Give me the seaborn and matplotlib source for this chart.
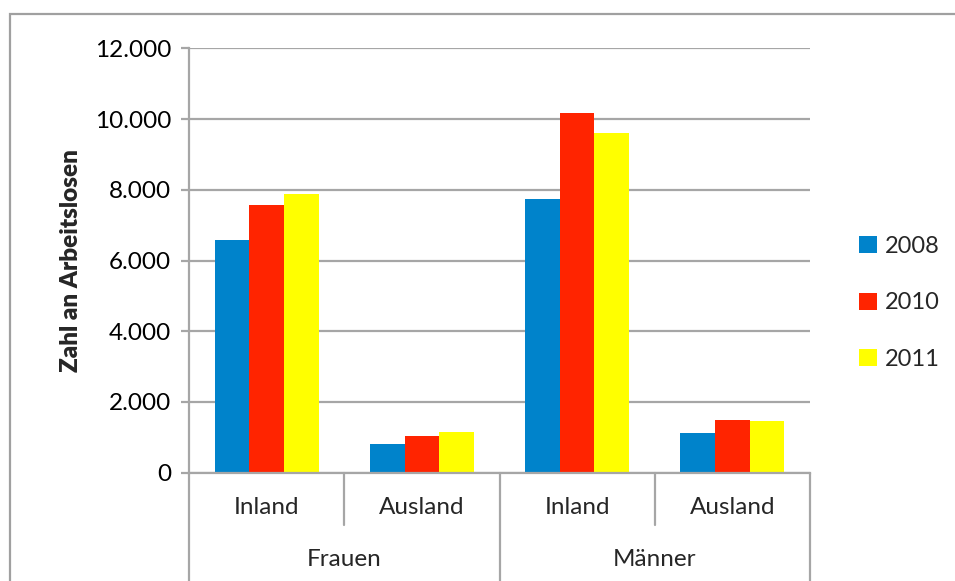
import matplotlib
matplotlib.use("Agg")
import matplotlib.pyplot as plt
import matplotlib.transforms as mtransforms
from matplotlib.patches import Rectangle, Patch
from matplotlib.ticker import FuncFormatter, MultipleLocator
import pandas as pd
import seaborn as sns

# Arbeitslose nach Geschlecht und Herkunft
geschlecht = ["Frauen", "Frauen", "Männer", "Männer"]
herkunft = ["Inland", "Ausland", "Inland", "Ausland"]
jahre = ["2008", "2010", "2011"]
werte_2008 = [6580, 810, 7740, 1115]
werte_2010 = [7560, 1040, 10160, 1490]
werte_2011 = [7890, 1150, 9610, 1455]
farben = ["#0083CB", "#FF2400", "#FFFF00"]

rows = []
for j, vals in zip(jahre, [werte_2008, werte_2010, werte_2011]):
    for i, v in enumerate(vals):
        rows.append({"gruppe": f"{geschlecht[i]}|{herkunft[i]}", "jahr": j, "wert": v})
df = pd.DataFrame(rows)
order = [f"{g}|{h}" for g, h in zip(geschlecht, herkunft)]

sns.set_style("white")
plt.rcParams["font.family"] = ["Lato", "DejaVu Sans"]

fig = plt.figure(figsize=(9.55, 5.81), dpi=100)
ax = fig.add_axes([189 / 955, 1 - 472.7 / 581, (810 - 189) / 955, (472.7 - 48.3) / 581])

sns.barplot(data=df, x="gruppe", y="wert", hue="jahr", order=order, hue_order=jahre,
            palette=farben, width=0.67, linewidth=0, saturation=1, ax=ax, legend=False)

grid_c = "#A6A6A6"
fs = 17.5
ax.set_ylim(0, 12000)
ax.set_xlim(-0.5, 3.5)
ax.yaxis.set_major_locator(MultipleLocator(2000))
ax.yaxis.set_major_formatter(FuncFormatter(lambda v, p: f"{int(v):,}".replace(",", ".")))
ax.grid(axis="y", color=grid_c, linewidth=1.6)
ax.set_axisbelow(True)
for s in ["top", "right"]:
    ax.spines[s].set_visible(False)
for s in ["left", "bottom"]:
    ax.spines[s].set_color(grid_c)
    ax.spines[s].set_linewidth(1.6)
ax.tick_params(axis="y", length=6, width=1.6, color=grid_c, labelsize=fs, pad=7,
               left=True, labelcolor="black")
ax.set_xticks([])
ax.set_xlabel("")
ax.set_ylabel("Zahl an Arbeitslosen", fontsize=17.5, fontweight="heavy", labelpad=9)

# Zweistufige Kategorienachse
trans = mtransforms.blended_transform_factory(ax.transData, ax.transAxes)
ax_h = 472.7 - 48.3
row1 = -(525 - 472.7) / ax_h
bottom = -(600 - 472.7) / ax_h
for xb in [-0.5, 1.5, 3.5]:
    ax.plot([xb, xb], [0, bottom], transform=trans, color=grid_c, lw=1.6, clip_on=False)
for xb in [0.5, 2.5]:
    ax.plot([xb, xb], [0, row1], transform=trans, color=grid_c, lw=1.6, clip_on=False)
for i, h in enumerate(herkunft):
    ax.text(i, -(508 - 472.7) / ax_h, h, transform=trans, ha="center", va="center", fontsize=fs)
for xc, g in [(0.5, "Frauen"), (2.5, "Männer")]:
    ax.text(xc, -(560 - 472.7) / ax_h, g, transform=trans, ha="center", va="center", fontsize=fs)

# Legende
handles = [Patch(facecolor=c, edgecolor="none") for c in farben]
fig.legend(handles, jahre, loc="center left", bbox_to_anchor=(847 / 955, 1 - 303 / 581),
           frameon=False, fontsize=17, handlelength=0.75, handleheight=0.75,
           handletextpad=0.35, labelspacing=1.5, borderpad=0)

# Rahmen
fig.patches.append(Rectangle((10 / 955, -0.1), 1.2, 1 - 14 / 581 + 0.1, transform=fig.transFigure,
                             fill=False, edgecolor="#A0A0A0", linewidth=1.6))

fig.savefig("out.png", dpi=100)
